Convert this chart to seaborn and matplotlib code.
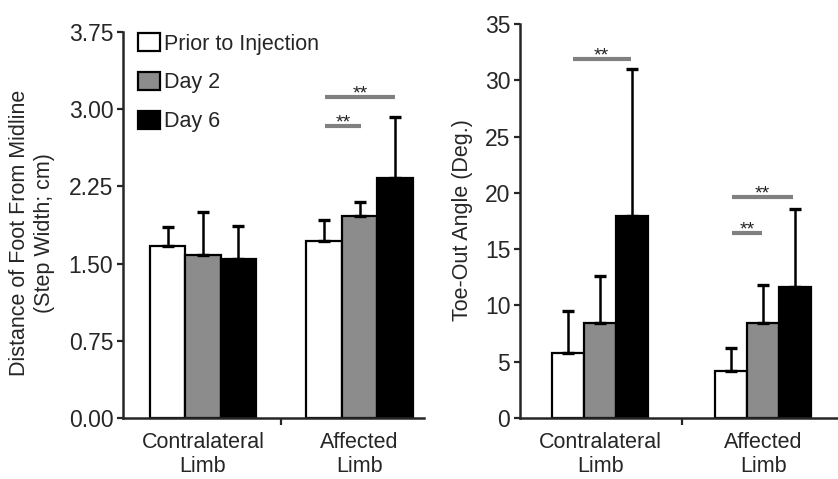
import matplotlib
matplotlib.use("Agg")
import matplotlib.pyplot as plt
from matplotlib.patches import Patch
import seaborn as sns
import pandas as pd

# ---- data ----
limbs = ["Contralateral\nLimb", "Affected\nLimb"]
phases = ["Prior to Injection", "Day 2", "Day 6"]

sw_prior = [1.67, 1.72]
sw_day2 = [1.58, 1.96]
sw_day6 = [1.54, 2.33]
sw_err_prior = [0.19, 0.20]
sw_err_day2 = [0.42, 0.14]
sw_err_day6 = [0.33, 0.59]

toe_prior = [5.8, 4.2]
toe_day2 = [8.45, 8.4]
toe_day6 = [17.9, 11.65]
toe_err_prior = [3.7, 2.0]
toe_err_day2 = [4.15, 3.4]
toe_err_day6 = [13.1, 6.95]

sw_ticks = [0.00, 0.75, 1.50, 2.25, 3.00, 3.75]
toe_ticks = [0, 5, 10, 15, 20, 25, 30, 35]

# significance brackets: (x_start, x_end, y)
sw_sig = [(0.78, 1.227, 3.12), (0.78, 1.01, 2.835)]
toe_sig = [(-0.169, 0.185, 31.85), (0.806, 1.184, 19.65), (0.806, 0.994, 16.45)]

colors = ["#ffffff", "#8c8c8c", "#000000"]

sns.set_style("ticks")
plt.rcParams["font.family"] = ["Liberation Sans", "DejaVu Sans"]


def make_df(a, b, c):
    rows = []
    for ph, vals in zip(phases, [a, b, c]):
        for limb, v in zip(limbs, vals):
            rows.append({"limb": limb, "phase": ph, "value": v})
    return pd.DataFrame(rows)


def draw(ax, df, errs, width, ylim, ticks, ticklabels, xlim, sig):
    sns.barplot(data=df, x="limb", y="value", hue="phase", order=limbs,
                hue_order=phases, palette=colors, width=width, errorbar=None,
                edgecolor="black", linewidth=1.6, legend=False, ax=ax,
                saturation=1)
    for cont, errl in zip(ax.containers, errs):
        for bar, e in zip(cont, errl):
            x = bar.get_x() + bar.get_width() / 2
            h = bar.get_height()
            ax.errorbar([x], [h], yerr=[[0], [e]], fmt="none", ecolor="black",
                        elinewidth=1.8, capsize=4, capthick=2.4, zorder=1)
    ax.set_ylim(*ylim)
    ax.set_yticks(ticks)
    ax.set_yticklabels(ticklabels, fontsize=16.5)
    ax.set_xlim(*xlim)
    ax.set_xticks([0, 1])
    ax.set_xticklabels(limbs, fontsize=15.5, linespacing=1.2)
    ax.tick_params(axis="x", length=0, pad=10)
    ax.set_xticks([0.5], minor=True)
    ax.tick_params(axis="x", which="minor", length=5, width=1.6, direction="out")
    ax.tick_params(axis="y", length=4, width=1.6, pad=3)
    ax.set_xlabel("")
    for s in ["left", "bottom"]:
        ax.spines[s].set_linewidth(1.8)
    sns.despine(ax=ax)
    for x0, x1, y in sig:
        ax.plot([x0, x1], [y, y], color="#808080", lw=3, solid_capstyle="butt",
                zorder=3)
        ax.annotate("**", xy=((x0 + x1) / 2, y), xytext=(0, -1),
                    textcoords="offset points", ha="center", va="baseline",
                    fontsize=14, color="#222222")


fig = plt.figure(figsize=(8.38, 4.79), dpi=100)
ax1 = fig.add_axes([123 / 838, 61 / 479, 301 / 838, 386 / 479])
ax2 = fig.add_axes([520 / 838, 61 / 479, 318 / 838, 394 / 479])

draw(ax1, make_df(sw_prior, sw_day2, sw_day6),
     [sw_err_prior, sw_err_day2, sw_err_day6], 0.68, (0, 3.75), sw_ticks,
     [f"{t:.2f}" for t in sw_ticks], (-0.511, 1.412), sw_sig)
draw(ax2, make_df(toe_prior, toe_day2, toe_day6),
     [toe_err_prior, toe_err_day2, toe_err_day6], 0.59, (0, 35), toe_ticks,
     [str(t) for t in toe_ticks], (-0.494, 1.459), toe_sig)

ax1.set_ylabel("Distance of Foot From Midline\n(Step Width; cm)", fontsize=15.5,
               linespacing=1.25)
ax1.yaxis.set_label_coords(-0.226, 0.479)
ax2.set_ylabel("Toe-Out Angle (Deg.)", fontsize=15.5)
ax2.yaxis.set_label_coords(-0.148, 0.503)

handles = [Patch(facecolor=c, edgecolor="black", linewidth=1.6) for c in colors]
ax1.legend(handles, phases, loc="upper left", bbox_to_anchor=(0.022, 1.02),
           frameon=False, fontsize=15.5, handlelength=1.0, handleheight=0.95,
           handletextpad=0.2, labelspacing=0.8, borderaxespad=0)

fig.savefig("out.png", dpi=100)
